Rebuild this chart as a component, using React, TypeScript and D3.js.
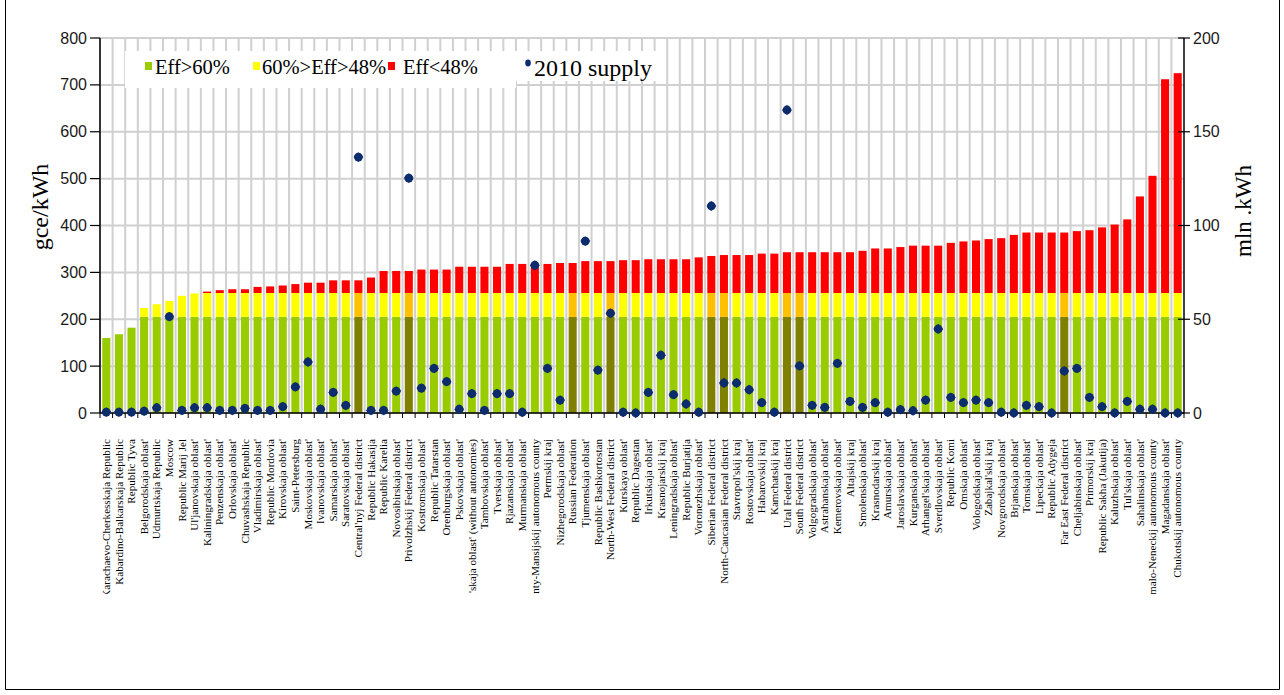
import React from "react";
import * as d3 from "d3";

// Regions ordered by specific fuel consumption of power generation
const regions: string[] = [
  "Karachaevo-Cherkesskaja Republic", "Kabardino-Balkarskaja Republic", "Republic Tyva",
  "Belgorodskaja oblast'", "Udmurtskaja Republic", "Moscow", "Republic Marij Jel",
  "Ul'janovskaja oblast'", "Kaliningradskaja oblast'", "Penzenskaja oblast'", "Orlovskaja oblast'",
  "Chuvashskaja Republic", "Vladimirskaja oblast'", "Republic Mordovia", "Kirovskaja oblast'",
  "Saint-Petersburg", "Moskovskaja oblast'", "Ivanovskaja oblast'", "Samarskaja oblast'",
  "Saratovskaja oblast'", "Central'nyj Federal district", "Republic Hakasija", "Republic Karelia",
  "Novosibirskaja oblast'", "Privolzhskij Federal district", "Kostromskaja oblast'",
  "Republic Tatarstan", "Orenburgskaja oblast'", "Pskovskaja oblast'",
  "Arhangel'skaja oblast' (without autonomies)", "Tambovskaja oblast'", "Tverskaja oblast'",
  "Rjazanskaja oblast'", "Murmanskaja oblast'", "Hanty-Mansijskij autonomous county",
  "Permskij kraj", "Nizhegorodskaja oblast'", "Russian Federation", "Tjumenskaja oblast'",
  "Republic Bashkortostan", "North-West Federal district", "Kurskaya oblast'", "Republic Dagestan",
  "Irkutskaja oblast'", "Krasnojarskij kraj", "Leningradskaja oblast'", "Republic  Burjatija",
  "Voronezhskaja oblast'", "Siberian Federal district", "North-Caucasian Federal district",
  "Stavropol'skij kraj", "Rostovskaja oblast'", "Habarovskij kraj", "Kamchatskij kraj",
  "Ural Federal district", "South Federal district", "Volgogradskaja oblast'",
  "Astrahanskaja oblast'", "Kemerovskaja oblast'", "Altajskij kraj", "Smolenskaja oblast'",
  "Krasnodarskij kraj", "Amurskaja oblast'", "Jaroslavskaja oblast'", "Kurganskaja oblast'",
  "Arhangel'skaja oblast'", "Sverdlovskaja oblast'", "Republic Komi", "Omskaja oblast'",
  "Vologodskaja oblast'", "Zabajkal'skij kraj", "Novgorodskaja oblast'", "Brjanskaja oblast'",
  "Tomskaja oblast'", "Lipeckaja oblast'", "Republic Adygeja", "Far East Federal district",
  "Cheljabinskaja oblast'", "Primorskij kraj", "Republic Sakha (Jakutija)", "Kaluzhskaja oblast'",
  "Tul'skaja oblast'", "Sahalinskaja oblast'", "Jamalo-Neneckij autonomous county",
  "Magadanskaja oblast'", "Chukotskij autonomous county",
];

// Specific fuel consumption, gce/kWh
const intensity: number[] = [
  160, 168, 182, 224, 232, 239, 250, 255, 259, 262,
  264, 264, 269, 270, 272, 275, 278, 278, 283, 283,
  283, 289, 303, 303, 303, 306, 306, 306, 312, 312,
  312, 312, 318, 318, 318, 318, 320, 320, 324, 324,
  324, 326, 326, 328, 328, 328, 328, 332, 335, 337,
  337, 337, 340, 340, 343, 343, 343, 343, 343, 343,
  346, 351, 351, 354, 357, 357, 357, 363, 366, 368,
  371, 373, 380, 385, 385, 385, 385, 388, 390, 396,
  402, 413, 462, 506, 712, 725,
];

// 2010 electricity supply, mln kWh (no value for the country total)
const supply2010: (number | null)[] = [
  0.5, 0.5, 0.5, 1.0, 2.8, 51.4, 1.4, 2.8, 2.8, 1.4,
  1.4, 2.5, 1.4, 1.4, 3.4, 13.9, 27.2, 2.1, 11.0, 4.1,
  136.5, 1.4, 1.4, 11.7, 125.3, 13.3, 23.8, 16.7, 2.0, 10.3,
  1.4, 10.3, 10.3, 0.4, 78.8, 23.8, 6.9, null, 91.7, 22.9,
  53.2, 0.4, 0.0, 11.0, 30.8, 9.8, 4.8, 0.4, 110.4, 16.0,
  16.0, 12.4, 5.5, 0.4, 161.6, 25.1, 4.1, 3.0, 26.5, 6.2,
  3.0, 5.5, 0.4, 1.8, 1.2, 6.9, 44.8, 8.3, 5.5, 6.9,
  5.5, 0.4, 0.0, 4.1, 3.4, 0.0, 22.4, 23.8, 8.3, 3.4,
  0.0, 6.2, 2.0, 2.0, 0.0, 0.0,
];

// Aggregates drawn with darker fills
const aggregates: string[] = [
  "Central'nyj Federal district", "Privolzhskij Federal district", "Russian Federation",
  "North-West Federal district", "Siberian Federal district", "North-Caucasian Federal district",
  "Ural Federal district", "South Federal district", "Far East Federal district",
];

// Efficiency band limits, gce/kWh: Eff>60% below the first, 60%>Eff>48% up to the second
const bandLimits: number[] = [205, 256];
const bandNames: string[] = ["Eff>60%", "60%>Eff>48%", "Eff<48%"];
const leftTicks: number[] = [0, 100, 200, 300, 400, 500, 600, 700, 800];
const rightTicks: number[] = [0, 50, 100, 150, 200];

const W = 1284;
const H = 695;
const M = { left: 100, right: 1184, top: 38, bottom: 413 };

const bandColors = ["#99cc00", "#ffff00", "#ff0000"];
const bandColorsDark = ["#808000", "#ffc000", "#ff0000"];
const gridColor = "#d0d0d0";
const dotColor = "#0c2c6c";
const sans = "'Liberation Sans', Arial, sans-serif";
const serif = "'Liberation Serif', 'Times New Roman', serif";

export default function App() {
  const x = d3.scaleBand<string>().domain(regions).range([M.left, M.right]);
  const y = d3.scaleLinear().domain([0, 800]).range([M.bottom, M.top]);
  const y2 = d3.scaleLinear().domain([0, 200]).range([M.bottom, M.top]);
  const bw = x.bandwidth();
  const barW = bw * 0.64;

  const stacks = regions.map((r, i) => {
    const v = intensity[i];
    const edges = [0, Math.min(v, bandLimits[0]), Math.min(v, bandLimits[1]), v];
    return { r, i, edges };
  });

  const boundaries = regions.map((r) => x(r) as number);

  // marker: round body with small points on the diagonals
  const dotPath = (cx: number, cy: number) => {
    const d = 4.9;
    return `M${cx},${cy - d}L${cx + d},${cy}L${cx},${cy + d}L${cx - d},${cy}Z`;
  };

  return (
    <svg
      width={W}
      height={H}
      style={{ position: "absolute", left: 0, top: 0, background: "#fff" }}
    >
      <defs>
        <clipPath id="labelClip">
          <rect x={0} y={M.bottom} width={W} height={594 - M.bottom} />
        </clipPath>
      </defs>
      <rect x={0} y={0} width={W} height={H} fill="#fff" />

      {/* outer frame */}
      <path d={`M5.5,0V689.5H1279.5V0`} fill="none" stroke="#000" strokeWidth={1} />

      {/* grid */}
      {leftTicks.map((t) => (
        <line key={"h" + t} x1={M.left} x2={M.right} y1={y(t)} y2={y(t)} stroke={gridColor} strokeWidth={2} />
      ))}
      {boundaries.map((bx, i) => (
        <line key={"v" + i} x1={bx} x2={bx} y1={M.top} y2={M.bottom} stroke={gridColor} strokeWidth={2} />
      ))}

      {/* legend backgrounds */}
      <rect x={125} y={51} width={391} height={37} fill="#fff" />
      <rect x={516} y={51} width={142} height={30} fill="#fff" />

      {/* bars */}
      {stacks.map(({ r, i, edges }) => {
        const dark = aggregates.includes(r);
        const cols = dark ? bandColorsDark : bandColors;
        const cx = (x(r) as number) + bw / 2;
        return (
          <g key={"b" + i}>
            {[0, 1, 2].map((k) =>
              edges[k + 1] > edges[k] ? (
                <rect
                  key={k}
                  x={cx - barW / 2}
                  width={barW}
                  y={y(edges[k + 1])}
                  height={y(edges[k]) - y(edges[k + 1])}
                  fill={cols[k]}
                />
              ) : null
            )}
          </g>
        );
      })}

      {/* axes */}
      <line x1={M.left} x2={M.left} y1={M.top} y2={M.bottom} stroke="#000" strokeWidth={1.5} />
      <line x1={M.right} x2={M.right} y1={M.top} y2={M.bottom} stroke="#000" strokeWidth={1.5} />
      <line x1={M.left} x2={M.right} y1={M.bottom} y2={M.bottom} stroke="#000" strokeWidth={1.5} />
      {leftTicks.map((t) => (
        <g key={"lt" + t}>
          <line x1={M.left - 10} x2={M.left} y1={y(t)} y2={y(t)} stroke="#000" strokeWidth={1.2} />
          <text x={M.left - 13} y={y(t)} dy="0.35em" textAnchor="end" fontFamily={sans} fontSize={16} fill="#1a1a1a">
            {t}
          </text>
        </g>
      ))}
      {rightTicks.map((t) => (
        <g key={"rt" + t}>
          <line x1={M.right - 6} x2={M.right + 6} y1={y2(t)} y2={y2(t)} stroke="#000" strokeWidth={1.2} />
          <text x={M.right + 9} y={y2(t)} dy="0.35em" textAnchor="start" fontFamily={sans} fontSize={16} fill="#1a1a1a">
            {t}
          </text>
        </g>
      ))}
      {boundaries.concat([M.right]).map((bx, i) => (
        <line key={"bt" + i} x1={bx} x2={bx} y1={M.bottom} y2={M.bottom + 5} stroke="#000" strokeWidth={1} />
      ))}

      {/* supply points */}
      {regions.map((r, i) => {
        const v = supply2010[i];
        if (v === null) return null;
        const cx = (x(r) as number) + bw / 2;
        const cy = y2(v);
        return (
          <g key={"p" + i} fill={dotColor}>
            <circle cx={cx} cy={cy} r={4.4} />
            <path d={dotPath(cx, cy)} />
          </g>
        );
      })}

      {/* category labels */}
      <g clipPath="url(#labelClip)">
        {regions.map((r, i) => {
          const cx = (x(r) as number) + bw / 2;
          return (
            <text
              key={"c" + i}
              transform={`translate(${cx},439) rotate(-90)`}
              dy="0.33em"
              textAnchor="end"
              fontFamily={serif}
              fontSize={11.1}
              fill="#000"
            >
              {r}
            </text>
          );
        })}
      </g>

      {/* axis titles */}
      <text transform="translate(40,207) rotate(-90)" dy="0.35em" textAnchor="middle" fontFamily={serif} fontSize={24} fill="#000">
        gce/kWh
      </text>
      <text transform="translate(1243,211) rotate(-90)" dy="0.35em" textAnchor="middle" fontFamily={serif} fontSize={23} fill="#000">
        mln .kWh
      </text>

      {/* legend */}
      {[
        { sx: 145, tx: 155 },
        { sx: 253, tx: 262 },
        { sx: 388, tx: 403 },
      ].map((p, k) => (
        <g key={"lg" + k}>
          <rect x={p.sx} y={62} width={7} height={8} fill={bandColors[k]} />
          <text x={p.tx} y={74} fontFamily={serif} fontSize={20.5} fill="#000">
            {bandNames[k]}
          </text>
        </g>
      ))}
      <ellipse cx={528} cy={63} rx={2.8} ry={3.4} fill={dotColor} />
      <text x={534} y={76} fontFamily={serif} fontSize={24} fill="#000">
        2010 supply
      </text>
    </svg>
  );
}
